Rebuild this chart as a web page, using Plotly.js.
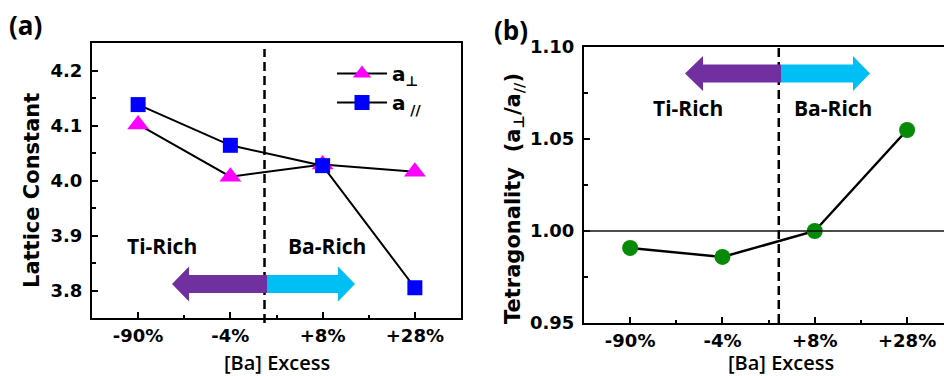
<!DOCTYPE html>
<html>
<head>
<meta charset="utf-8">
<script src="https://cdn.plot.ly/plotly-3.0.1.min.js"></script>
<style>html,body{margin:0;padding:0;background:#fff}#chart{width:944px;height:376px}</style>
</head>
<body>
<div id="chart"></div>
<script>
// ---- data ----
const categories = ["-90%", "-4%", "+8%", "+28%"];
const aPerp = [4.102, 4.007, 4.029, 4.016];
const aPar = [4.138, 4.064, 4.027, 3.805];
const tetragonality = [0.9908, 0.9859, 1.000, 1.0549];
const yTicksA = [3.8, 3.9, 4.0, 4.1, 4.2];
const yTickTextA = ["3.8", "3.9", "4.0", "4.1", "4.2"];
const yTicksB = [0.95, 1.00, 1.05, 1.10];
const yTickTextB = ["0.95", "1.00", "1.05", "1.10"];

const W = 944, H = 376;
const px = x => x / W;
const py = y => 1 - y / H;
const xi = categories.map((c, i) => i);

const tickFont = {family: "DejaVu Sans", size: 18, color: "#000", weight: "bold"};
const calFont = (s, w) => ({family: "Open Sans", size: s, color: "#000", weight: w});

const traces = [
  {x: xi, y: aPerp, xaxis: "x", yaxis: "y", mode: "lines+markers", name: "a<sub>⊥</sub>",
   line: {color: "#000", width: 2}, marker: {symbol: "triangle-up", size: 19, color: "#FF00FF"}},
  {x: xi, y: aPar, xaxis: "x", yaxis: "y", mode: "lines+markers", name: "a<sub> //</sub>",
   line: {color: "#000", width: 2}, marker: {symbol: "square", size: 15, color: "#0000FF"}},
  {x: xi, y: tetragonality, xaxis: "x2", yaxis: "y2", mode: "lines+markers", showlegend: false,
   line: {color: "#000", width: 2.5}, marker: {symbol: "circle", size: 16, color: "#078A07"}}
];

function arrowPaths(tipL, baseL, mid, baseR, tipR, cy, bodyH, headH) {
  const P = (x, y) => px(x) + "," + py(y);
  const bt = cy - bodyH, bb = cy + bodyH, ht = cy - headH, hb = cy + headH;
  const left = "M" + P(tipL, cy) + " L" + P(baseL, ht) + " L" + P(baseL, bt) + " L" + P(mid, bt) +
    " L" + P(mid, bb) + " L" + P(baseL, bb) + " L" + P(baseL, hb) + " Z";
  const right = "M" + P(mid, bt) + " L" + P(baseR, bt) + " L" + P(baseR, ht) + " L" + P(tipR, cy) +
    " L" + P(baseR, hb) + " L" + P(baseR, bb) + " L" + P(mid, bb) + " Z";
  return [
    {type: "path", xref: "paper", yref: "paper", path: left, fillcolor: "#7030A0", line: {width: 0}},
    {type: "path", xref: "paper", yref: "paper", path: right, fillcolor: "#00BFF5", line: {width: 0}}
  ];
}

const shapes = [
  {type: "line", xref: "x", yref: "paper", x0: 1.37, x1: 1.37, y0: py(323), y1: py(49),
   line: {color: "#000", width: 2.5, dash: "9px,5px"}},
  {type: "line", xref: "x2", yref: "paper", x0: 1.61, x1: 1.61, y0: py(323), y1: py(47),
   line: {color: "#000", width: 2.5, dash: "9px,5px"}},
  {type: "line", xref: "paper", yref: "y2", x0: px(584), x1: 1, y0: 1.0, y1: 1.0,
   line: {color: "#111", width: 1.5}},
  ...arrowPaths(172, 189, 267, 338, 355, 284, 9, 17.5),
  ...arrowPaths(685, 703, 781, 853, 870, 73.5, 9, 17.5)
];

const ann = (text, x, y, font, extra) => Object.assign({
  text, x: px(x), y: py(y), xref: "paper", yref: "paper", xanchor: "center", yanchor: "middle",
  showarrow: false, font}, extra || {});

const annotations = [
  ann("(a)", 25, 25, calFont(26, "bold")),
  ann("(b)", 511, 30, calFont(26, "bold")),
  ann("Ti-Rich", 162, 246, calFont(21, "bold")),
  ann("Ba-Rich", 327, 246, calFont(21, "bold")),
  ann("Ti-Rich", 688, 108, calFont(21, "bold")),
  ann("Ba-Rich", 833, 108, calFont(21, "bold")),
  ann("[Ba] Excess", 277, 362, calFont(20, 600)),
  ann("[Ba] Excess", 781, 362, calFont(20, 600)),
  ann("Lattice Constant", 32, 191, {family: "DejaVu Sans", size: 21, color: "#000", weight: "bold"}, {textangle: -90}),
  ann("Tetragonality  (a<sub>⊥</sub>/a<sub>//</sub>)", 514, 199, {family: "DejaVu Sans", size: 21, color: "#000", weight: "bold"}, {textangle: -90})
];

const axisCommon = {
  showgrid: false, zeroline: false, showline: true, linecolor: "#000", linewidth: 2,
  ticks: "inside", ticklen: 6, tickwidth: 2, tickcolor: "#000", tickfont: tickFont,
  fixedrange: true
};

const layout = {
  width: W, height: H, margin: {l: 0, r: 0, t: 0, b: 0},
  paper_bgcolor: "#fff", plot_bgcolor: "rgba(0,0,0,0)",
  showlegend: true,
  legend: {x: px(332), y: py(54), xanchor: "left", yanchor: "top", bgcolor: "rgba(0,0,0,0)",
    itemwidth: 50,
    font: {family: "DejaVu Sans", size: 20, color: "#000", weight: "bold"}, tracegroupgap: 0},
  xaxis: Object.assign({}, axisCommon, {domain: [px(92), px(461)], range: [-0.5, 3.5], anchor: "y",
    tickmode: "array", tickvals: xi, ticktext: categories, mirror: true, ticklabelstandoff: 0,
    minor: {tickmode: "array", tickvals: [0.5, 1.5, 2.5], ticks: "inside", ticklen: 3, tickwidth: 2, tickcolor: "#000"}}),
  yaxis: Object.assign({}, axisCommon, {domain: [py(318), py(43)], range: [3.75, 4.25], anchor: "x",
    tickmode: "array", tickvals: yTicksA, ticktext: yTickTextA, mirror: true, ticklabelstandoff: 4,
    minor: {dtick: 0.05, tick0: 3.75, ticks: "inside", ticklen: 4, tickwidth: 2, tickcolor: "#000"}}),
  xaxis2: Object.assign({}, axisCommon, {domain: [px(584), 1], range: [-0.5, 3.4], anchor: "y2",
    tickmode: "array", tickvals: xi, ticktext: categories, mirror: true, ticklabelstandoff: 0,
    minor: {tickmode: "array", tickvals: [0.5, 1.5, 2.5], ticks: "inside", ticklen: 3, tickwidth: 2, tickcolor: "#000"}}),
  yaxis2: Object.assign({}, axisCommon, {domain: [py(323), py(47)], range: [0.95, 1.10], anchor: "x2",
    tickmode: "array", tickvals: yTicksB, ticktext: yTickTextB, mirror: false, ticklabelstandoff: 4,
    minor: {dtick: 0.025, tick0: 0.95, ticks: "inside", ticklen: 4, tickwidth: 2, tickcolor: "#000"}}),
  shapes, annotations
};

Plotly.newPlot("chart", traces, layout, {staticPlot: true, displayModeBar: false});
</script>
</body>
</html>
